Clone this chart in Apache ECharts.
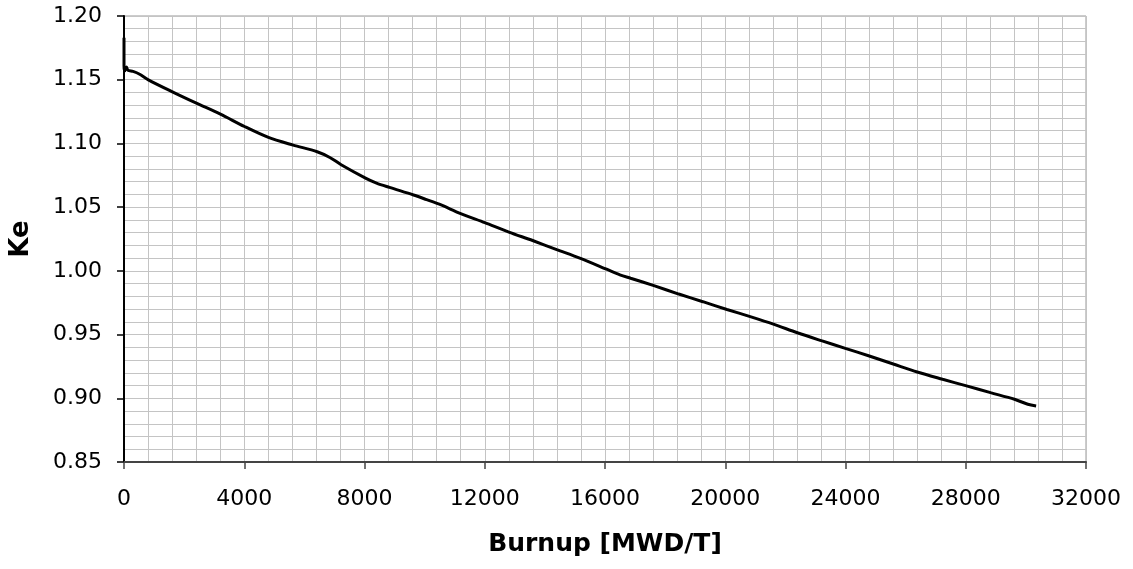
<!DOCTYPE html>
<html>
<head>
<meta charset="utf-8">
<script src="https://cdn.jsdelivr.net/npm/echarts@6/dist/echarts.min.js"></script>
<style>
html,body{margin:0;padding:0;background:#fff;}
#chart{width:1133px;height:569px;}
</style>
</head>
<body>
<div id="chart"></div>
<script>
const burnup = [0, 0, 30, 80, 133, 300, 521, 810, 1609, 2408, 3207, 4006, 4805, 5626, 6425, 6847, 7223, 8033, 8400, 8832, 9631, 10064, 10488, 11200, 12001, 12802, 13592, 14393, 15183, 16051, 16496, 16852, 17653, 18454, 19255, 20056, 20857, 21600, 22398, 23196, 23994, 24791, 25589, 26386, 27229, 28026, 28824, 29621, 30064, 30341];
const ke = [1.183, 1.161, 1.157, 1.160, 1.1574, 1.1565, 1.1543, 1.1499, 1.1405, 1.1316, 1.1230, 1.1133, 1.1047, 1.0987, 1.0935, 1.0890, 1.0833, 1.0728, 1.0689, 1.0655, 1.0595, 1.0559, 1.0523, 1.0449, 1.0378, 1.0304, 1.0238, 1.0167, 1.0098, 1.0013, 0.9969, 0.9942, 0.9882, 0.9818, 0.9758, 0.9697, 0.9639, 0.9582, 0.9514, 0.9452, 0.9392, 0.9332, 0.9269, 0.9206, 0.9149, 0.9097, 0.9044, 0.8992, 0.8953, 0.8940];
const xTitle = 'Burnup [MWD/T]';
const yTitle = 'Ke';

const chart = echarts.init(document.getElementById('chart'), null, {renderer: 'canvas'});
const font = 'DejaVu Sans';
chart.setOption({
  animation: false,
  backgroundColor: '#fff',
  grid: {left: 124, right: 47, top: 16, bottom: 107, show: true, borderColor: '#999', borderWidth: 1},
  xAxis: {
    type: 'value', min: 0, max: 32000, interval: 4000,
    name: xTitle, nameLocation: 'middle', nameGap: 70,
    nameTextStyle: {fontFamily: font, fontWeight: 'bold', fontSize: 25, color: '#000'},
    axisLine: {show: true, onZero: false, lineStyle: {color: '#444', width: 2}},
    axisTick: {show: true, inside: false, length: 7, lineStyle: {color: '#444', width: 1.5}},
    axisLabel: {fontFamily: font, fontSize: 22, color: '#000', margin: 26, formatter: v => String(v)},
    splitLine: {show: true, lineStyle: {color: '#c4c4c4', width: 1}},
    minorTick: {show: false, splitNumber: 5},
    minorSplitLine: {show: true, lineStyle: {color: '#c4c4c4', width: 1}}
  },
  yAxis: {
    type: 'value', min: 0.85, max: 1.20, interval: 0.05,
    name: yTitle, nameLocation: 'middle', nameGap: 90, nameRotate: 90,
    nameTextStyle: {fontFamily: font, fontWeight: 'bold', fontSize: 26, color: '#000'},
    axisLine: {show: true, onZero: false, lineStyle: {color: '#000', width: 2}},
    axisTick: {show: true, inside: false, length: 7, lineStyle: {color: '#000', width: 1.5}},
    axisLabel: {fontFamily: font, fontSize: 22, color: '#000', margin: 22, formatter: v => v.toFixed(2)},
    splitLine: {show: true, lineStyle: {color: '#c4c4c4', width: 1}},
    minorTick: {show: false, splitNumber: 5},
    minorSplitLine: {show: true, lineStyle: {color: '#c4c4c4', width: 1}}
  },
  series: [{
    type: 'line',
    data: burnup.map((b, i) => [b, ke[i]]),
    showSymbol: false,
    smooth: 0.3,
    lineStyle: {color: '#000', width: 3},
    z: 5
  }]
});
</script>
</body>
</html>
